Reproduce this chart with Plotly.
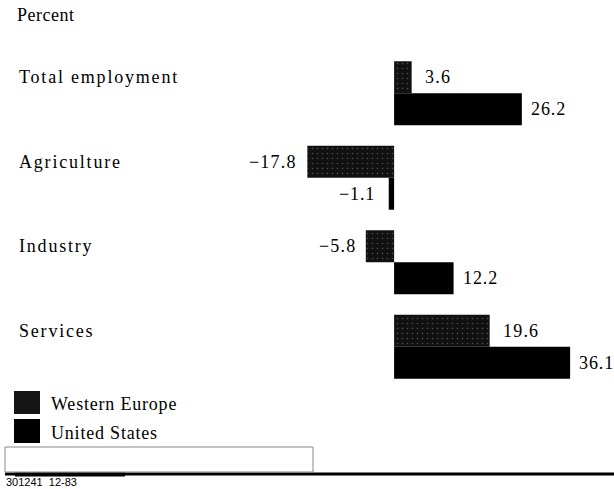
import plotly.graph_objects as go

categories = ["Total employment", "Agriculture", "Industry", "Services"]
western_europe = [3.6, -17.8, -5.8, 19.6]
united_states = [26.2, -1.1, 12.2, 36.1]
series_names = ["Western Europe", "United States"]
value_labels_we = ["3.6", "\u221217.8", "\u22125.8", "19.6"]
value_labels_us = ["26.2", "\u22121.1", "12.2", "36.1"]

W, H = 614, 489
L, R, T, B = 300, 0, 51, 100
PW, PH = W - L - R, H - T - B

def px(x):
    return (x - L) / PW

def py(y):
    return (H - B - y) / PH

SERIF = "Liberation Serif"

def spaced(s, sp):
    return '<span style="letter-spacing:%spx">%s</span>' % (sp, s)

fig = go.Figure()
fig.add_trace(go.Bar(
    y=categories, x=western_europe, orientation="h", name=series_names[0],
    marker=dict(color="#111111", line=dict(width=0),
                pattern=dict(shape=".", fgcolor="#8a8a8a", bgcolor="#111111", size=5, solidity=0.08)),
    showlegend=False, hoverinfo="skip",
))
fig.add_trace(go.Bar(
    y=categories, x=united_states, orientation="h", name=series_names[1],
    marker=dict(color="#000000", line=dict(width=0)),
    showlegend=False, hoverinfo="skip",
))

annotations = []
for cat, v, lab in zip(categories, western_europe, value_labels_we):
    annotations.append(dict(x=v, y=cat, xref="x", yref="y", text=spaced(lab, 1.2), showarrow=False,
                            xanchor="left" if v >= 0 else "right", xshift=11 if v >= 0 else -8,
                            yshift=16, font=dict(family=SERIF, size=18, color="#000")))
for cat, v, lab in zip(categories, united_states, value_labels_us):
    annotations.append(dict(x=v, y=cat, xref="x", yref="y", text=spaced(lab, 0.9), showarrow=False,
                            xanchor="left" if v >= 0 else "right", xshift=7 if v >= 0 else -12,
                            yshift=-16, font=dict(family=SERIF, size=18, color="#000")))
for cat in categories:
    annotations.append(dict(x=px(17), y=cat, xref="paper", yref="y", text=spaced(cat, 1.8), showarrow=False,
                            xanchor="left", yshift=16, font=dict(family=SERIF, size=18, color="#000")))

annotations.append(dict(x=px(15), y=py(15), xref="paper", yref="paper", text=spaced("Percent", 0.5), showarrow=False,
                        xanchor="left", yanchor="middle", font=dict(family=SERIF, size=18, color="#000")))
# legend text
annotations.append(dict(x=px(49), y=py(404), xref="paper", yref="paper", text=spaced(series_names[0], 0.8), showarrow=False,
                        xanchor="left", yanchor="middle", font=dict(family=SERIF, size=18, color="#000")))
annotations.append(dict(x=px(49), y=py(433), xref="paper", yref="paper", text=spaced(series_names[1], 0.8), showarrow=False,
                        xanchor="left", yanchor="middle", font=dict(family=SERIF, size=18, color="#000")))
annotations.append(dict(x=px(4), y=py(482), xref="paper", yref="paper", text="301241  12-83", showarrow=False,
                        xanchor="left", yanchor="middle", font=dict(family="Liberation Sans", size=11, color="#000")))

shapes = [
    dict(type="rect", xref="paper", yref="paper", x0=px(14), x1=px(40), y0=py(391), y1=py(414),
         fillcolor="#151515", line=dict(width=0)),
    dict(type="rect", xref="paper", yref="paper", x0=px(14), x1=px(40), y0=py(419), y1=py(443),
         fillcolor="#000000", line=dict(width=0)),
    dict(type="line", xref="paper", yref="paper", x0=px(5), x1=px(614), y0=py(474), y1=py(474),
         line=dict(color="#000", width=3)),
    dict(type="line", xref="paper", yref="paper", x0=px(15), x1=px(125), y0=py(474.5), y1=py(474.5),
         line=dict(color="#000", width=4)),
    dict(type="rect", xref="paper", yref="paper", x0=px(5), x1=px(313), y0=py(472), y1=py(447),
         fillcolor="#ffffff", line=dict(color="#888", width=1)),
]

fig.update_layout(
    width=W, height=H,
    margin=dict(l=L, r=R, t=T, b=B),
    paper_bgcolor="white", plot_bgcolor="white",
    barmode="group", bargap=0.243, bargroupgap=0,
    xaxis=dict(range=[-19.3, 45.1], visible=False, fixedrange=True),
    yaxis=dict(autorange="reversed", visible=False, fixedrange=True),
    annotations=annotations, shapes=shapes,
    showlegend=False,
)
fig.write_html("out.html", config={"displayModeBar": False},
               post_script="document.body.style.margin='0';document.body.style.overflow='hidden';")
